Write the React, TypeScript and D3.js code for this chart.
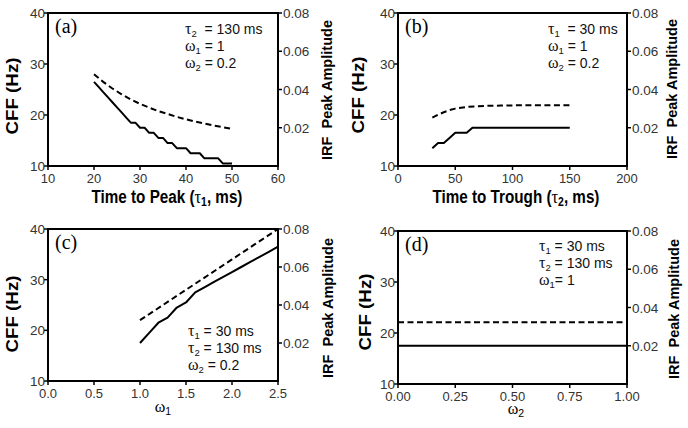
import React from 'react';
import * as d3 from 'd3';

// ---------- data ----------
const cffTicks = [10, 20, 30, 40];
const ampTicks = [0.02, 0.04, 0.06, 0.08];
const ampTickLabels = ['0.02', '0.04', '0.06', '0.08'];

const aXTicks = [10, 20, 30, 40, 50, 60];
const aXTickLabels = ['10', '20', '30', '40', '50', '60'];
const bXTicks = [0, 50, 100, 150, 200];
const bXTickLabels = ['0', '50', '100', '150', '200'];
const cXTicks = [0, 0.5, 1, 1.5, 2, 2.5];
const cXTickLabels = ['0.0', '0.5', '1.0', '1.5', '2.0', '2.5'];
const dXTicks = [0, 0.25, 0.5, 0.75, 1];
const dXTickLabels = ['0.00', '0.25', '0.50', '0.75', '1.00'];

// (a) CFF vs time to peak
const aSolidTau1 = [20, 21, 22, 23, 24, 25, 26, 27, 28, 29, 30, 31, 32, 33, 34, 35, 36, 37, 38, 39, 40, 41, 42, 43, 44, 45, 46, 47, 48, 49, 50];
const aSolidCFF = [26.5, 25.5, 24.5, 23.5, 22.5, 21.5, 20.5, 19.5, 18.5, 18.5, 17.5, 17.5, 16.5, 16.5, 15.5, 15.5, 14.5, 14.5, 13.5, 13.5, 13.5, 12.5, 12.5, 12.5, 11.5, 11.5, 11.5, 11.5, 10.5, 10.5, 10.5];
const aDashTau1 = [20, 22, 24, 26, 28, 30, 32, 34, 36, 38, 40, 42, 44, 46, 48, 50];
const aDashAmp = [0.048, 0.044, 0.0405, 0.0375, 0.0348, 0.0325, 0.0305, 0.0287, 0.0272, 0.0257, 0.0244, 0.0232, 0.0222, 0.0212, 0.0203, 0.0194];

// (b) CFF vs time to trough
const bSolidTau2 = [30, 35, 40, 45, 50, 55, 60, 65, 70, 100, 150];
const bSolidCFF = [13.5, 14.5, 14.5, 15.5, 16.5, 16.5, 16.5, 17.5, 17.5, 17.5, 17.5];
const bDashTau2 = [30, 35, 40, 45, 50, 55, 60, 70, 80, 90, 100, 150];
const bDashAmp = [0.0253, 0.0268, 0.0281, 0.0292, 0.03, 0.0305, 0.0309, 0.0313, 0.0315, 0.0316, 0.0317, 0.0317];

// (c) CFF vs omega1
const cSolidW1 = [1.0, 1.1, 1.2, 1.3, 1.4, 1.5, 1.6, 1.7, 1.8, 1.9, 2.0, 2.1, 2.2, 2.3, 2.4, 2.5];
const cSolidCFF = [17.5, 19.5, 21.5, 22.5, 24.5, 25.5, 27.5, 28.5, 29.5, 30.5, 31.5, 32.5, 33.5, 34.5, 35.5, 36.5];
const cDashW1 = [1.0, 1.25, 1.5, 1.75, 2.0, 2.25, 2.5];
const cDashAmp = [0.032, 0.04, 0.048, 0.056, 0.064, 0.072, 0.08];

// (d) CFF vs omega2
const dW2 = [0, 1];
const dSolidCFF = [17.5, 17.5];
const dDashAmp = [0.0323, 0.0323];

const aParams = [['τ', '2', '  = 130 ms'], ['ω', '1', ' = 1'], ['ω', '2', ' = 0.2']];
const bParams = [['τ', '1', '  = 30 ms'], ['ω', '1', ' = 1'], ['ω', '2', ' = 0.2']];
const cParams = [['τ', '1', ' = 30 ms'], ['τ', '2', ' = 130 ms'], ['ω', '2', ' = 0.2']];
const dParams = [['τ', '1', ' = 30 ms'], ['τ', '2', ' = 130 ms'], ['ω', '1', '= 1']];

// ---------- rendering ----------
const SANS = "'Liberation Sans', Arial, Helvetica, sans-serif";
const SERIF = "'Liberation Serif', 'Times New Roman', serif";

type Box = { l: number; r: number; t: number; b: number };

function Panel(props: {
  box: Box;
  xDomain: [number, number];
  xTicks: number[];
  xTickLabels: string[];
  solidX: number[];
  solidY: number[];
  dashX: number[];
  dashY: number[];
  letter: string;
  params: string[][];
  paramX: number;
  paramY: number;
  xLabel: React.ReactNode;
  cffLabel: { x: number; y: number };
  irfLabel: { x: number; y: number };
}) {
  const { box } = props;
  const x = d3.scaleLinear().domain(props.xDomain).range([box.l, box.r]);
  const yL = d3.scaleLinear().domain([10, 40]).range([box.b, box.t]);
  const yR = d3.scaleLinear().domain([0, 0.08]).range([box.b, box.t]);
  const solid = d3
    .line<number>()
    .x((_, i) => x(props.solidX[i]))
    .y((d) => yL(d))(props.solidY) as string;
  const dash = d3
    .line<number>()
    .x((_, i) => x(props.dashX[i]))
    .y((d) => yR(d))(props.dashY) as string;
  const tk = 4;
  return (
    <g>
      <path d={solid} fill="none" stroke="#000" strokeWidth={2} strokeLinejoin="round" />
      <path d={dash} fill="none" stroke="#000" strokeWidth={2} strokeDasharray="6,3.5" />
      <rect x={box.l} y={box.t} width={box.r - box.l} height={box.b - box.t} fill="none" stroke="#000" strokeWidth={2} />
      {cffTicks.map((v) => (
        <g key={'l' + v}>
          <line x1={box.l - tk} x2={box.l} y1={yL(v)} y2={yL(v)} stroke="#000" strokeWidth={1.5} />
          <text x={box.l - 3} y={yL(v) + 5} textAnchor="end" fontFamily={SANS} fontSize={13.5} fill="#333">
            {v}
          </text>
        </g>
      ))}
      {ampTicks.map((v, i) => (
        <g key={'r' + v}>
          <line x1={box.r} x2={box.r + tk} y1={yR(v)} y2={yR(v)} stroke="#000" strokeWidth={1.5} />
          <text x={box.r + 5} y={yR(v) + 5} textAnchor="start" fontFamily={SANS} fontSize={13.5} fill="#333">
            {ampTickLabels[i]}
          </text>
        </g>
      ))}
      {props.xTicks.map((v, i) => (
        <g key={'b' + v}>
          <line x1={x(v)} x2={x(v)} y1={box.b} y2={box.b + tk} stroke="#000" strokeWidth={1.5} />
          <text x={x(v)} y={box.b + 16.5} textAnchor="middle" fontFamily={SANS} fontSize={13} fill="#333">
            {props.xTickLabels[i]}
          </text>
        </g>
      ))}
      <text x={box.l + 7} y={box.t + 20} fontFamily={SERIF} fontSize={20}>
        {props.letter}
      </text>
      {props.params.map((p, i) => (
        <text key={'p' + i} x={props.paramX} y={props.paramY + i * 17} fontFamily={SANS} fontSize={14} fill="#111" style={{ whiteSpace: 'pre' }}>
          <tspan fontFamily={SERIF} fontSize={16}>{p[0]}</tspan>
          <tspan fontSize={9.5} dy={3}>{p[1]}</tspan>
          <tspan dy={-3}>{p[2]}</tspan>
        </text>
      ))}
      <text
        transform={`translate(${props.cffLabel.x},${props.cffLabel.y}) rotate(-90)`}
        textAnchor="middle"
        fontFamily={SANS}
        fontWeight="bold"
        fontSize={16}
        textLength={77}
        lengthAdjust="spacingAndGlyphs"
      >
        CFF (Hz)
      </text>
      <text
        transform={`translate(${props.irfLabel.x},${props.irfLabel.y}) rotate(-90)`}
        textAnchor="middle"
        fontFamily={SANS}
        fontWeight="bold"
        fontSize={15}
        textLength={140}
        lengthAdjust="spacingAndGlyphs"
        style={{ whiteSpace: 'pre' }}
      >
        {'IRF  Peak Amplitude'}
      </text>
      {props.xLabel}
    </g>
  );
}

function XLabelTime(props: { x: number; y: number; pre: string; sym: string; sub: string }) {
  return (
    <g transform={`translate(${props.x},${props.y}) scale(0.87,1)`}>
      <text x={0} y={0} textAnchor="middle" fontFamily={SANS} fontWeight="bold" fontSize={17.5}>
        {props.pre}
        <tspan fontFamily={SERIF} fontWeight="normal" fontSize={19}>{props.sym}</tspan>
        <tspan fontSize={12} dy={3}>{props.sub}</tspan>
        <tspan dy={-3}>, ms)</tspan>
      </text>
    </g>
  );
}

function XLabelOmega(props: { x: number; y: number; sub: string }) {
  return (
    <text x={props.x} y={props.y} textAnchor="middle" fontFamily={SERIF} fontSize={16}>
      ω<tspan fontSize={10.5} dy={3} fontFamily={SANS}>{props.sub}</tspan>
    </text>
  );
}

export default function App() {
  return (
    <svg width={688} height={428} style={{ position: 'absolute', left: 0, top: 0, background: '#fff' }}>
      <rect width={688} height={428} fill="#fff" />
      <Panel
        box={{ l: 48, r: 278, t: 13, b: 166 }}
        xDomain={[10, 60]}
        xTicks={aXTicks}
        xTickLabels={aXTickLabels}
        solidX={aSolidTau1}
        solidY={aSolidCFF}
        dashX={aDashTau1}
        dashY={aDashAmp}
        letter="(a)"
        params={aParams}
        paramX={185}
        paramY={34}
        xLabel={<XLabelTime x={167} y={203} pre="Time to Peak (" sym="τ" sub="1" />}
        cffLabel={{ x: 18, y: 96 }}
        irfLabel={{ x: 332, y: 90 }}
      />
      <Panel
        box={{ l: 398, r: 627, t: 13, b: 166 }}
        xDomain={[0, 200]}
        xTicks={bXTicks}
        xTickLabels={bXTickLabels}
        solidX={bSolidTau2}
        solidY={bSolidCFF}
        dashX={bDashTau2}
        dashY={bDashAmp}
        letter="(b)"
        params={bParams}
        paramX={548}
        paramY={34}
        xLabel={<XLabelTime x={516} y={203} pre="Time to Trough (" sym="τ" sub="2" />}
        cffLabel={{ x: 364, y: 95 }}
        irfLabel={{ x: 677, y: 89 }}
      />
      <Panel
        box={{ l: 48, r: 278, t: 229, b: 381 }}
        xDomain={[0, 2.5]}
        xTicks={cXTicks}
        xTickLabels={cXTickLabels}
        solidX={cSolidW1}
        solidY={cSolidCFF}
        dashX={cDashW1}
        dashY={cDashAmp}
        letter="(c)"
        params={cParams}
        paramX={188}
        paramY={335.5}
        xLabel={<XLabelOmega x={163} y={412} sub="1" />}
        cffLabel={{ x: 18, y: 314 }}
        irfLabel={{ x: 333, y: 308 }}
      />
      <Panel
        box={{ l: 398, r: 627, t: 231, b: 384 }}
        xDomain={[0, 1]}
        xTicks={dXTicks}
        xTickLabels={dXTickLabels}
        solidX={dW2}
        solidY={dSolidCFF}
        dashX={dW2}
        dashY={dDashAmp}
        letter="(d)"
        params={dParams}
        paramX={539}
        paramY={251}
        xLabel={<XLabelOmega x={516} y={414} sub="2" />}
        cffLabel={{ x: 371, y: 312 }}
        irfLabel={{ x: 679, y: 309 }}
      />
    </svg>
  );
}
